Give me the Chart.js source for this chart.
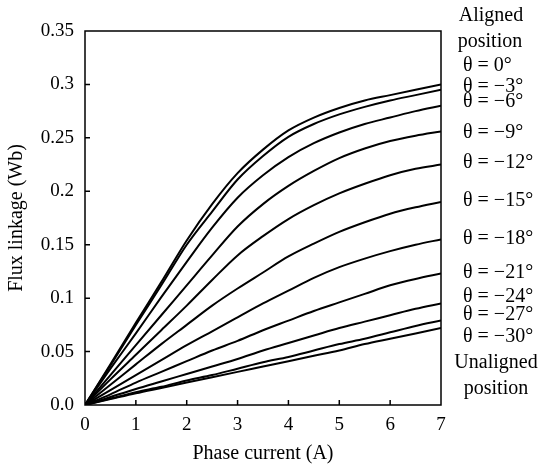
<!DOCTYPE html>
<html>
<head>
<meta charset="utf-8">
<script src="https://cdn.jsdelivr.net/npm/chart.js@4"></script>
<style>
  body { margin: 0; background: #fff; }
  #wrap { width: 541px; height: 469px; }
</style>
</head>
<body>
<div id="wrap"><canvas id="fluxChart" width="541" height="469"></canvas></div>
<script>
// Phase current (A) sample points
const current = [0, 0.5, 1, 1.5, 2, 2.5, 3, 3.5, 4, 4.5, 5, 5.5, 6, 6.5, 7];

// Flux linkage (Wb) for each rotor position
const theta0   = [0, 0.038, 0.077, 0.115, 0.154, 0.188, 0.217, 0.239, 0.257, 0.269, 0.278, 0.285, 0.290, 0.295, 0.300];
const theta3   = [0, 0.037, 0.075, 0.112, 0.150, 0.181, 0.211, 0.233, 0.251, 0.263, 0.272, 0.279, 0.285, 0.290, 0.295];
const theta6   = [0, 0.034, 0.067, 0.101, 0.134, 0.166, 0.194, 0.215, 0.232, 0.245, 0.255, 0.263, 0.269, 0.275, 0.280];
const theta9   = [0, 0.028, 0.056, 0.084, 0.112, 0.140, 0.167, 0.188, 0.205, 0.219, 0.231, 0.240, 0.247, 0.252, 0.256];
const theta12  = [0, 0.024, 0.047, 0.070, 0.093, 0.117, 0.140, 0.158, 0.174, 0.187, 0.198, 0.207, 0.215, 0.221, 0.225];
const theta15  = [0, 0.019, 0.038, 0.057, 0.075, 0.093, 0.109, 0.124, 0.139, 0.151, 0.162, 0.171, 0.179, 0.185, 0.190];
const theta18  = [0, 0.014, 0.028, 0.042, 0.056, 0.069, 0.082, 0.095, 0.107, 0.119, 0.129, 0.137, 0.144, 0.150, 0.155];
const theta21  = [0, 0.010, 0.021, 0.031, 0.041, 0.051, 0.060, 0.070, 0.079, 0.088, 0.096, 0.104, 0.112, 0.118, 0.123];
const theta24  = [0, 0.0075, 0.015, 0.022, 0.029, 0.036, 0.043, 0.051, 0.058, 0.065, 0.072, 0.078, 0.084, 0.090, 0.095];
const theta27  = [0, 0.006, 0.012, 0.017, 0.023, 0.028, 0.034, 0.040, 0.045, 0.051, 0.057, 0.062, 0.068, 0.074, 0.079];
const theta30  = [0, 0.0055, 0.011, 0.016, 0.021, 0.026, 0.031, 0.036, 0.041, 0.046, 0.051, 0.057, 0.062, 0.067, 0.072];

const seriesNames = ['θ = 0°', 'θ = −3°', 'θ = −6°', 'θ = −9°', 'θ = −12°', 'θ = −15°',
                     'θ = −18°', 'θ = −21°', 'θ = −24°', 'θ = −27°', 'θ = −30°'];
const seriesData = [theta0, theta3, theta6, theta9, theta12, theta15,
                    theta18, theta21, theta24, theta27, theta30];

const xTickLabels = ['0', '1', '2', '3', '4', '5', '6', '7'];
const yTickLabels = ['0.0', '0.05', '0.1', '0.15', '0.2', '0.25', '0.3', '0.35'];

// right-hand annotation text and its vertical position
const sideLabels = [
    { text: 'Aligned', y: 16, align: 'center', x: 491 },
    { text: 'position', y: 42, align: 'center', x: 490 },
    { text: 'θ = 0°', y: 66, align: 'left', x: 463 },
    { text: 'θ = −3°', y: 87, align: 'left', x: 463 },
    { text: 'θ = −6°', y: 102, align: 'left', x: 463 },
    { text: 'θ = −9°', y: 133, align: 'left', x: 463 },
    { text: 'θ = −12°', y: 163, align: 'left', x: 463 },
    { text: 'θ = −15°', y: 201, align: 'left', x: 463 },
    { text: 'θ = −18°', y: 239, align: 'left', x: 463 },
    { text: 'θ = −21°', y: 273, align: 'left', x: 463 },
    { text: 'θ = −24°', y: 297, align: 'left', x: 463 },
    { text: 'θ = −27°', y: 315, align: 'left', x: 463 },
    { text: 'θ = −30°', y: 337, align: 'left', x: 463 },
    { text: 'Unaligned', y: 363, align: 'center', x: 496 },
    { text: 'position', y: 389, align: 'center', x: 496 }
];

const FONT = '"Liberation Serif", "Times New Roman", serif';

const framePlugin = {
    id: 'frameAndLabels',
    afterDraw(chart) {
        const ctx = chart.ctx;
        const area = chart.chartArea;
        const xs = chart.scales.x;
        const ys = chart.scales.y;
        ctx.save();
        ctx.strokeStyle = '#000';
        ctx.lineWidth = 1.5;
        ctx.strokeRect(area.left, area.top, area.right - area.left, area.bottom - area.top);
        // inward ticks
        ctx.beginPath();
        for (let i = 1; i < xTickLabels.length - 1; i++) {
            const px = xs.getPixelForValue(i);
            ctx.moveTo(px, area.bottom);
            ctx.lineTo(px, area.bottom - 5);
        }
        for (let i = 1; i < yTickLabels.length - 1; i++) {
            const py = ys.getPixelForValue(i * 0.05);
            ctx.moveTo(area.left, py);
            ctx.lineTo(area.left + 5, py);
        }
        ctx.stroke();
        // side annotations
        ctx.fillStyle = '#000';
        ctx.font = '20px ' + FONT;
        ctx.textBaseline = 'middle';
        sideLabels.forEach(l => {
            ctx.textAlign = l.align;
            ctx.fillText(l.text, l.x, l.y);
        });
        ctx.restore();
    }
};

const ctx = document.getElementById('fluxChart').getContext('2d');

const fluxChart = new Chart(ctx, {
    type: 'line',
    data: {
        labels: current,
        datasets: seriesData.map((vals, i) => ({
            label: seriesNames[i],
            data: vals.map((v, j) => ({ x: current[j], y: v })),
            borderColor: '#000',
            borderWidth: 2,
            pointRadius: 0,
            fill: false,
            cubicInterpolationMode: 'monotone'
        }))
    },
    options: {
        responsive: false,
        animation: false,
        layout: {
            padding: { left: 0, top: 31, right: 100, bottom: 0 }
        },
        plugins: {
            legend: { display: false },
            tooltip: { enabled: false }
        },
        scales: {
            x: {
                type: 'linear',
                min: 0,
                max: 7,
                afterFit: scale => { scale.height = 64; },
                grid: { display: false, drawTicks: false },
                border: { display: false },
                ticks: {
                    stepSize: 1,
                    padding: 9,
                    color: '#000',
                    font: { family: FONT, size: 19 },
                    callback: (v) => xTickLabels[v]
                },
                title: {
                    display: true,
                    text: 'Phase current (A)',
                    color: '#000',
                    font: { family: FONT, size: 20 },
                    padding: { top: 0, bottom: 3 }
                }
            },
            y: {
                min: 0,
                max: 0.35,
                afterFit: scale => { scale.width = 85; },
                grid: { display: false, drawTicks: false },
                border: { display: false },
                ticks: {
                    stepSize: 0.05,
                    padding: 11,
                    color: '#000',
                    font: { family: FONT, size: 19 },
                    callback: (v) => yTickLabels[Math.round(v / 0.05)]
                },
                title: {
                    display: true,
                    text: 'Flux linkage (Wb)',
                    color: '#000',
                    font: { family: FONT, size: 20 },
                    padding: { top: 5, bottom: 0 }
                }
            }
        }
    },
    plugins: [framePlugin]
});
</script>
</body>
</html>
